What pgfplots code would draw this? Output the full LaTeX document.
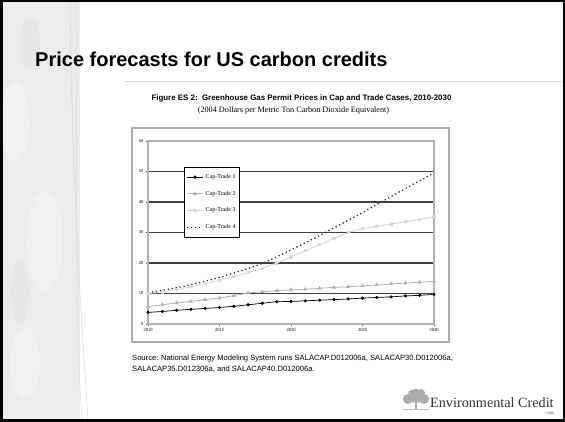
\documentclass[border=0pt]{standalone}
\usepackage{fontspec}
\setmainfont{Liberation Serif}
\newfontfamily\arial{Liberation Sans}
\usepackage{pgfplots}
\pgfplotsset{compat=1.18}
\pgfplotstableread{
year ct1 ct2 ct3 ct4
2010 3.8 5.7 10.0 10.3
2011 4.1 6.3 10.5 11.0
2012 4.5 6.9 11.3 11.9
2013 4.8 7.4 12.2 12.9
2014 5.1 8.0 13.2 14.0
2015 5.4 8.5 14.3 15.3
2016 5.8 9.3 15.5 16.7
2017 6.3 10.2 16.8 18.2
2018 6.8 10.6 18.3 19.9
2019 7.3 10.9 20.0 22.0
2020 7.4 11.2 22.0 24.3
2021 7.6 11.4 24.0 26.6
2022 7.8 11.7 26.0 29.0
2023 8.0 12.0 28.0 31.5
2024 8.2 12.2 30.0 34.0
2025 8.5 12.5 31.3 36.5
2026 8.7 12.8 32.0 39.2
2027 8.9 13.1 32.8 41.8
2028 9.2 13.4 33.5 44.4
2029 9.4 13.7 34.3 47.0
2030 9.7 14.0 35.2 49.5
}\datatable
\begin{document}
\begin{tikzpicture}
\begin{scope}[x=1pt,y=1pt]
\useasboundingbox (0,0) rectangle (565,422);
\fill[white] (0,0) rectangle (565,422);
% decorative left strip
\fill[gray!15] (3,2) rectangle (80,420);
\fill[gray!11] (15,300) ellipse (14 and 40);
\fill[gray!11] (45,180) ellipse (18 and 50);
\fill[gray!11] (25,60) ellipse (15 and 35);
\fill[gray!19] (30,380) ellipse (10 and 25);
\fill[gray!19] (20,130) ellipse (9 and 30);
\draw[gray!35, line width=0.4] (70,420) .. controls (72,250) and (80,120) .. (88,2);
\draw[gray!30, line width=0.4] (76,420) .. controls (78,250) and (74,120) .. (82,2);
\draw[black, line width=2.5] (1.25,1.25) rectangle (563.75,420.75);
% slide title
\node[anchor=base west, inner sep=0, font=\arial\bfseries\fontsize{20}{24}\selectfont] at (35,355) {Price forecasts for US carbon credits};
\draw[gray!30, line width=0.8] (125,341) -- (563,341);
% figure title
\node[anchor=base, inner sep=0, font=\arial\bfseries\fontsize{7.9}{9}\selectfont] at (301.5,321) {Figure ES 2:\ \ Greenhouse Gas Permit Prices in Cap and Trade Cases, 2010-2030};
\node[anchor=base, inner sep=0, font=\fontsize{8.2}{9}\selectfont] at (293.5,309) {(2004 Dollars per Metric Ton Carbon Dioxide Equivalent)};
% chart box
\draw[gray!65, line width=1.5] (132,80) rectangle (449,294);
% source
\node[anchor=base west, inner sep=0, font=\arial\fontsize{7.6}{11}\selectfont] at (132,61) {Source: National Energy Modeling System runs SALACAP.D012006a, SALACAP30.D012006a,};
\node[anchor=base west, inner sep=0, font=\arial\fontsize{7.6}{11}\selectfont] at (132,50) {SALACAP35.D012306a, and SALACAP40.D012006a.};
% logo
\fill[gray!65] (415,13) rectangle (417,22);
\fill[gray!65] (408,23) circle (5) (416,26) circle (7) (424,23) circle (5) (412,28) circle (4) (421,29) circle (4);
\draw[gray!50, line width=0.5] (403,12.5) -- (429,12.5);
\node[anchor=base west, inner sep=0, font=\fontsize{14.2}{16}\selectfont, text=black!80] at (430,14) {Environmental Credit};
\node[anchor=base east, inner sep=0, font=\fontsize{3.5}{4}\selectfont, text=black!70] at (555,7) {CORP.};
\end{scope}
\begin{axis}[
  at={(148pt,98pt)}, anchor=origin,
  scale only axis, width=286pt, height=183pt,
  xmin=2010, xmax=2030, ymin=0, ymax=60,
  xtick={2010,2015,2020,2025,2030},
  ytick={0,10,20,30,40,50,60},
  xtick pos=left, ytick pos=left,
  xticklabel style={/pgf/number format/1000 sep=, font=\fontsize{4.5}{5}\selectfont, yshift=1pt},
  yticklabel style={font=\fontsize{4.5}{5}\selectfont, xshift=1pt},
  /pgf/number format/assume math mode=true,
  tick align=outside, major tick length=2pt,
  tick style={gray!70!black, line width=0.8},
  axis line style={gray!60, line width=1.5},
  ymajorgrids, major grid style={gray!50!black, line width=1.1},
  legend style={at={(0.126,0.858)}, anchor=north west, draw=black, line width=0.7,
    font=\fontsize{6}{7}\selectfont, row sep=7pt, inner xsep=2pt, inner ysep=5pt},
  legend image code/.code={\draw[mark repeat=2,mark phase=2] plot coordinates {(0cm,0cm) (0.28cm,0cm) (0.56cm,0cm)};},
  legend cell align=left,
]
\addplot[black, line width=0.7, mark=*, mark size=1.2] table[x=year,y=ct1]{\datatable};
\addlegendentry{Cap-Trade 1}
\addplot[gray!60, line width=0.8, mark=triangle*, mark size=1.6] table[x=year,y=ct2]{\datatable};
\addlegendentry{Cap-Trade 2}
\addplot[gray!30, line width=0.9, mark=square*, mark size=1.1] table[x=year,y=ct3]{\datatable};
\addlegendentry{Cap-Trade 3}
\addplot[black!80, line width=1.3, dash pattern=on 1.3pt off 2.7pt] table[x=year,y=ct4]{\datatable};
\addlegendentry{Cap-Trade 4}
\end{axis}
\end{tikzpicture}
\end{document}
